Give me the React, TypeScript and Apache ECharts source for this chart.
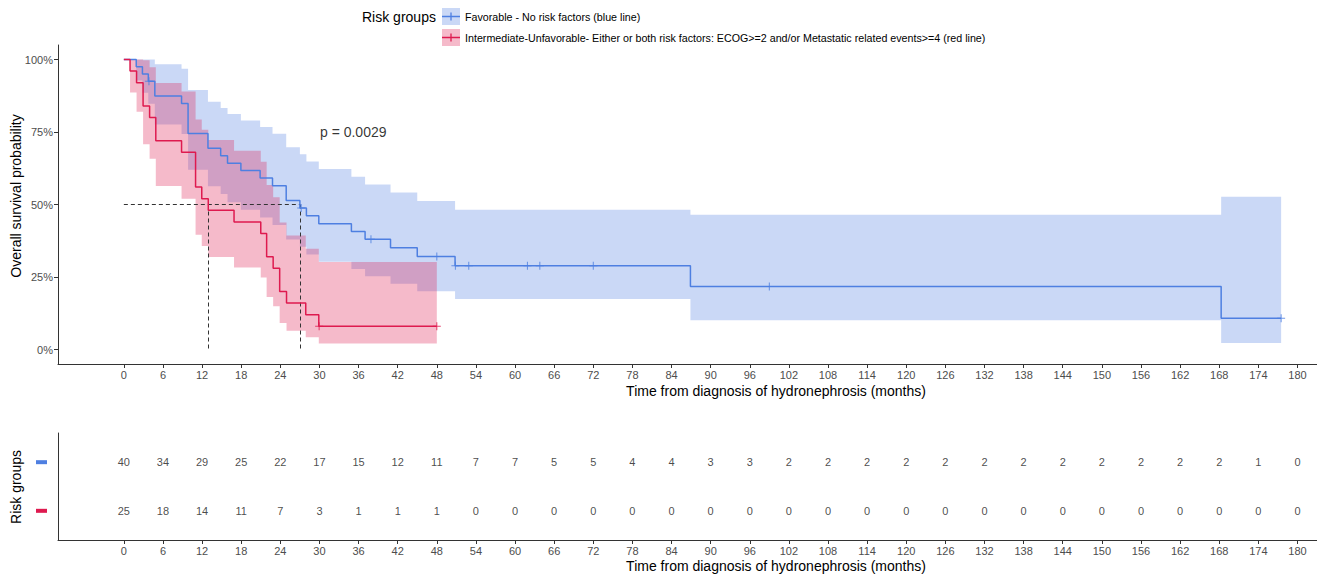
import React, { useEffect, useRef } from "react";
import * as echarts from "echarts";

const FONT = "'Liberation Sans', Arial, Helvetica, sans-serif";
const BLUE = "#4E7FE1";
const RED = "#DE1A4F";
const BLUE_FILL = "rgba(78,127,225,0.3)";
const RED_FILL = "rgba(222,26,79,0.3)";

const GROUP_FAV = "Favorable - No risk factors (blue line)";
const GROUP_INT =
  "Intermediate-Unfavorable- Either or both risk factors: ECOG>=2 and/or Metastatic related events>=4 (red line)";

// Favorable group (blue): step times, survival, confidence band
const blueTime = [0, 1.9, 2.85, 3.75, 4.75, 8.85, 9.85, 12.9, 14.85, 15.9, 17.95, 20.9, 22.8, 24.9, 27.0, 28.0, 29.9, 34.9, 37.0, 40.9, 45.0, 50.8, 86.9, 168.3, 177.5];
const blueSurv = [1, 0.975, 0.95, 0.925, 0.874, 0.848, 0.745, 0.694, 0.668, 0.642, 0.617, 0.591, 0.565, 0.514, 0.488, 0.461, 0.434, 0.407, 0.38, 0.351, 0.321, 0.289, 0.217, 0.108, 0.108];
const blueUpper = [1, 1, 1, 1, 0.984, 0.968, 0.895, 0.854, 0.833, 0.812, 0.79, 0.767, 0.744, 0.697, 0.673, 0.648, 0.622, 0.596, 0.569, 0.541, 0.512, 0.482, 0.465, 0.527, 0.527];
const blueLower = [1, 0.928, 0.885, 0.847, 0.776, 0.743, 0.62, 0.563, 0.536, 0.508, 0.482, 0.455, 0.429, 0.379, 0.354, 0.328, 0.303, 0.278, 0.253, 0.227, 0.201, 0.174, 0.101, 0.022, 0.022];
const blueCensorTime = [3.85, 27.2, 37.9, 48.0, 50.85, 52.9, 61.9, 63.8, 72.0, 99.0, 177.5];
const blueCensorSurv = [0.925, 0.488, 0.38, 0.321, 0.289, 0.289, 0.289, 0.289, 0.289, 0.217, 0.108];

// Intermediate-Unfavorable group (red)
const redTime = [0, 0.95, 1.95, 2.95, 3.95, 4.9, 8.85, 11.0, 11.95, 12.95, 16.9, 21.0, 21.9, 22.9, 23.9, 24.95, 27.9, 29.9, 48.0];
const redSurv = [1, 0.96, 0.92, 0.84, 0.8, 0.72, 0.68, 0.56, 0.52, 0.48, 0.44, 0.4, 0.32, 0.28, 0.2, 0.16, 0.12, 0.08, 0.08];
const redUpper = [1, 1, 1, 0.997, 0.973, 0.919, 0.89, 0.793, 0.758, 0.722, 0.685, 0.647, 0.567, 0.525, 0.438, 0.393, 0.347, 0.302, 0.302];
const redLower = [1, 0.886, 0.82, 0.708, 0.658, 0.564, 0.52, 0.396, 0.357, 0.319, 0.283, 0.248, 0.181, 0.149, 0.091, 0.065, 0.042, 0.021, 0.021];
const redCensorTime = [29.95, 48.0];
const redCensorSurv = [0.08, 0.08];

// Median survival lines
const medianTimes = [12.95, 27.0];
const medianLevel = 0.5;

// p-value annotation
const pValueText = "p = 0.0029";
const pValuePos = [30, 0.75];

// Risk table
const riskTimes = [0, 6, 12, 18, 24, 30, 36, 42, 48, 54, 60, 66, 72, 78, 84, 90, 96, 102, 108, 114, 120, 126, 132, 138, 144, 150, 156, 162, 168, 174, 180];
const blueAtRisk = [40, 34, 29, 25, 22, 17, 15, 12, 11, 7, 7, 5, 5, 4, 4, 3, 3, 2, 2, 2, 2, 2, 2, 2, 2, 2, 2, 2, 2, 1, 0];
const redAtRisk = [25, 18, 14, 11, 7, 3, 1, 1, 1, 0, 0, 0, 0, 0, 0, 0, 0, 0, 0, 0, 0, 0, 0, 0, 0, 0, 0, 0, 0, 0, 0];

// Tick values
const xTicks = [0, 6, 12, 18, 24, 30, 36, 42, 48, 54, 60, 66, 72, 78, 84, 90, 96, 102, 108, 114, 120, 126, 132, 138, 144, 150, 156, 162, 168, 174, 180];
const yTicks = [0, 0.25, 0.5, 0.75, 1];

const X_MIN = -10.1;
const X_MAX = 183;

const PLUS = "path://M4.35,0H5.65V4.35H10V5.65H5.65V10H4.35V5.65H0V4.35H4.35Z";
const LEGEND_ICON =
  "path://M0,0H0.01V0.01H0Z M17.99,16.99H18V17H17.99Z M0,7.85H18V9.15H0Z M8.35,4.5H9.65V12.5H8.35Z";

const bandRender =
  (times: number[], lo: number[], hi: number[], fill: string) => (_params: any, api: any) => {
    const top: number[][] = [];
    const bottom: number[][] = [];
    for (let i = 0; i < times.length - 1; i++) {
      top.push(api.coord([times[i], hi[i]]), api.coord([times[i + 1], hi[i]]));
      bottom.push(api.coord([times[i], lo[i]]), api.coord([times[i + 1], lo[i]]));
    }
    return {
      type: "polygon",
      shape: { points: top.concat(bottom.reverse()) },
      style: { fill },
      silent: true,
    };
  };

const xAxisBase = (gridIndex: number) => ({
  type: "value",
  gridIndex,
  min: X_MIN,
  max: X_MAX,
  axisLine: { show: true, onZero: false, lineStyle: { color: "#333", width: 1 } },
  axisTick: { show: true, customValues: xTicks, length: 4, lineStyle: { color: "#333" } },
  axisLabel: { customValues: xTicks, color: "#4D4D4D", fontSize: 11, margin: 5, fontFamily: FONT },
  splitLine: { show: false },
});

const riskLabel = {
  show: true,
  position: "inside",
  formatter: (p: any) => String(p.value[2]),
  fontSize: 11,
  color: "#1a1a1a",
  textBorderWidth: 0,
  fontFamily: FONT,
};

export default function App() {
  const ref = useRef<HTMLDivElement>(null);

  useEffect(() => {
    if (!ref.current) return;
    const chart = echarts.init(ref.current, undefined, { renderer: "svg" });

    const option: any = {
      animation: false,
      backgroundColor: "#fff",
      textStyle: { fontFamily: FONT },
      grid: [
        { left: 58, right: 0, top: 45, bottom: 213, outerBoundsMode: "none" },
        { left: 58, right: 0, top: 433, bottom: 37, outerBoundsMode: "none" },
      ],
      legend: {
        orient: "vertical",
        left: 442,
        top: 8,
        padding: 0,
        itemWidth: 18,
        itemHeight: 17,
        itemGap: 4,
        selectedMode: false,
        data: [
          { name: GROUP_FAV, icon: LEGEND_ICON },
          { name: GROUP_INT, icon: LEGEND_ICON },
        ],
        textStyle: { fontSize: 10.7, color: "#000", fontFamily: FONT },
      },
      xAxis: [xAxisBase(0), xAxisBase(1)],
      yAxis: [
        {
          type: "value",
          gridIndex: 0,
          min: -0.05,
          max: 1.05,
          axisLine: { show: true, onZero: false, lineStyle: { color: "#333", width: 1 } },
          axisTick: { show: true, customValues: yTicks, length: 4, lineStyle: { color: "#333" } },
          axisLabel: {
            customValues: yTicks,
            color: "#4D4D4D",
            fontSize: 11,
            margin: 5,
            fontFamily: FONT,
            formatter: (v: number) => `${Math.round(v * 100)}%`,
          },
          splitLine: { show: false },
        },
        {
          type: "value",
          gridIndex: 1,
          min: 0.4,
          max: 2.6,
          axisLine: { show: true, onZero: false, lineStyle: { color: "#333", width: 1 } },
          axisTick: { show: false },
          axisLabel: {
            customValues: [1, 2],
            margin: 11,
            formatter: (v: number) => (v === 2 ? "{b| }" : "{r| }"),
            rich: {
              b: { backgroundColor: BLUE, width: 11, height: 4, fontSize: 1, lineHeight: 4 },
              r: { backgroundColor: RED, width: 11, height: 4, fontSize: 1, lineHeight: 4 },
            },
          },
          splitLine: { show: false },
        },
      ],
      graphic: [
        { type: "rect", shape: { x: 442, y: 8, width: 18, height: 17 }, style: { fill: BLUE_FILL }, z: 0 },
        { type: "rect", shape: { x: 442, y: 29, width: 18, height: 17 }, style: { fill: RED_FILL }, z: 0 },
        {
          type: "text",
          x: 362,
          y: 17,
          style: { text: "Risk groups", fontSize: 14, fill: "#000", fontFamily: FONT, align: "left", verticalAlign: "middle" },
        },
        {
          type: "text",
          x: 776,
          y: 391,
          style: {
            text: "Time from diagnosis of hydronephrosis (months)",
            fontSize: 14,
            fill: "#000",
            fontFamily: FONT,
            align: "center",
            verticalAlign: "middle",
          },
        },
        {
          type: "text",
          x: 776,
          y: 566,
          style: {
            text: "Time from diagnosis of hydronephrosis (months)",
            fontSize: 14,
            fill: "#000",
            fontFamily: FONT,
            align: "center",
            verticalAlign: "middle",
          },
        },
        {
          type: "text",
          x: 16,
          y: 196,
          rotation: Math.PI / 2,
          style: {
            text: "Overall survival probability",
            fontSize: 14,
            fill: "#000",
            fontFamily: FONT,
            align: "center",
            verticalAlign: "middle",
          },
        },
        {
          type: "text",
          x: 16,
          y: 487,
          rotation: Math.PI / 2,
          style: { text: "Risk groups", fontSize: 14, fill: "#000", fontFamily: FONT, align: "center", verticalAlign: "middle" },
        },
      ],
      series: [
        {
          type: "custom",
          name: "band-fav",
          xAxisIndex: 0,
          yAxisIndex: 0,
          data: [[0, 1]],
          renderItem: bandRender(blueTime, blueLower, blueUpper, BLUE_FILL),
          silent: true,
          z: 1,
        },
        {
          type: "custom",
          name: "band-int",
          xAxisIndex: 0,
          yAxisIndex: 0,
          data: [[0, 1]],
          renderItem: bandRender(redTime, redLower, redUpper, RED_FILL),
          silent: true,
          z: 1,
        },
        {
          type: "lines",
          name: "median",
          coordinateSystem: "cartesian2d",
          xAxisIndex: 0,
          yAxisIndex: 0,
          silent: true,
          z: 2,
          lineStyle: { color: "#333", width: 1, type: [4, 3], opacity: 1 },
          data: [
            { coords: [[0, medianLevel], [Math.max(...medianTimes), medianLevel]] },
            ...medianTimes.map((t) => ({ coords: [[t, medianLevel], [t, 0]] })),
          ],
        },
        {
          type: "line",
          name: GROUP_FAV,
          xAxisIndex: 0,
          yAxisIndex: 0,
          step: "end",
          showSymbol: false,
          color: BLUE,
          lineStyle: { color: BLUE, width: 1.5 },
          data: blueTime.map((t, i) => [t, blueSurv[i]]),
          z: 3,
        },
        {
          type: "line",
          name: GROUP_INT,
          xAxisIndex: 0,
          yAxisIndex: 0,
          step: "end",
          showSymbol: false,
          color: RED,
          lineStyle: { color: RED, width: 1.5 },
          data: redTime.map((t, i) => [t, redSurv[i]]),
          z: 3,
        },
        {
          type: "scatter",
          name: "censor-fav",
          xAxisIndex: 0,
          yAxisIndex: 0,
          symbol: PLUS,
          symbolSize: 8,
          itemStyle: { color: BLUE },
          data: blueCensorTime.map((t, i) => [t, blueCensorSurv[i]]),
          silent: true,
          z: 4,
        },
        {
          type: "scatter",
          name: "censor-int",
          xAxisIndex: 0,
          yAxisIndex: 0,
          symbol: PLUS,
          symbolSize: 8,
          itemStyle: { color: RED },
          data: redCensorTime.map((t, i) => [t, redCensorSurv[i]]),
          silent: true,
          z: 4,
        },
        {
          type: "scatter",
          name: "pvalue",
          xAxisIndex: 0,
          yAxisIndex: 0,
          symbolSize: 1,
          itemStyle: { color: "rgba(0,0,0,0)" },
          data: [pValuePos],
          silent: true,
          label: {
            show: true,
            position: "right",
            distance: 0,
            formatter: pValueText,
            fontSize: 14,
            color: "#000",
            fontFamily: FONT,
          },
          z: 5,
        },
        {
          type: "scatter",
          name: "risk-fav",
          xAxisIndex: 1,
          yAxisIndex: 1,
          symbolSize: 1,
          itemStyle: { color: "rgba(0,0,0,0)" },
          data: riskTimes.map((t, i) => [t, 2, blueAtRisk[i]]),
          silent: true,
          label: riskLabel,
        },
        {
          type: "scatter",
          name: "risk-int",
          xAxisIndex: 1,
          yAxisIndex: 1,
          symbolSize: 1,
          itemStyle: { color: "rgba(0,0,0,0)" },
          data: riskTimes.map((t, i) => [t, 1, redAtRisk[i]]),
          silent: true,
          label: riskLabel,
        },
      ],
    };

    chart.setOption(option);
    return () => chart.dispose();
  }, []);

  return (
    <div
      ref={ref}
      style={{ position: "fixed", left: 0, top: 0, width: 1317, height: 577, background: "#fff" }}
    />
  );
}
